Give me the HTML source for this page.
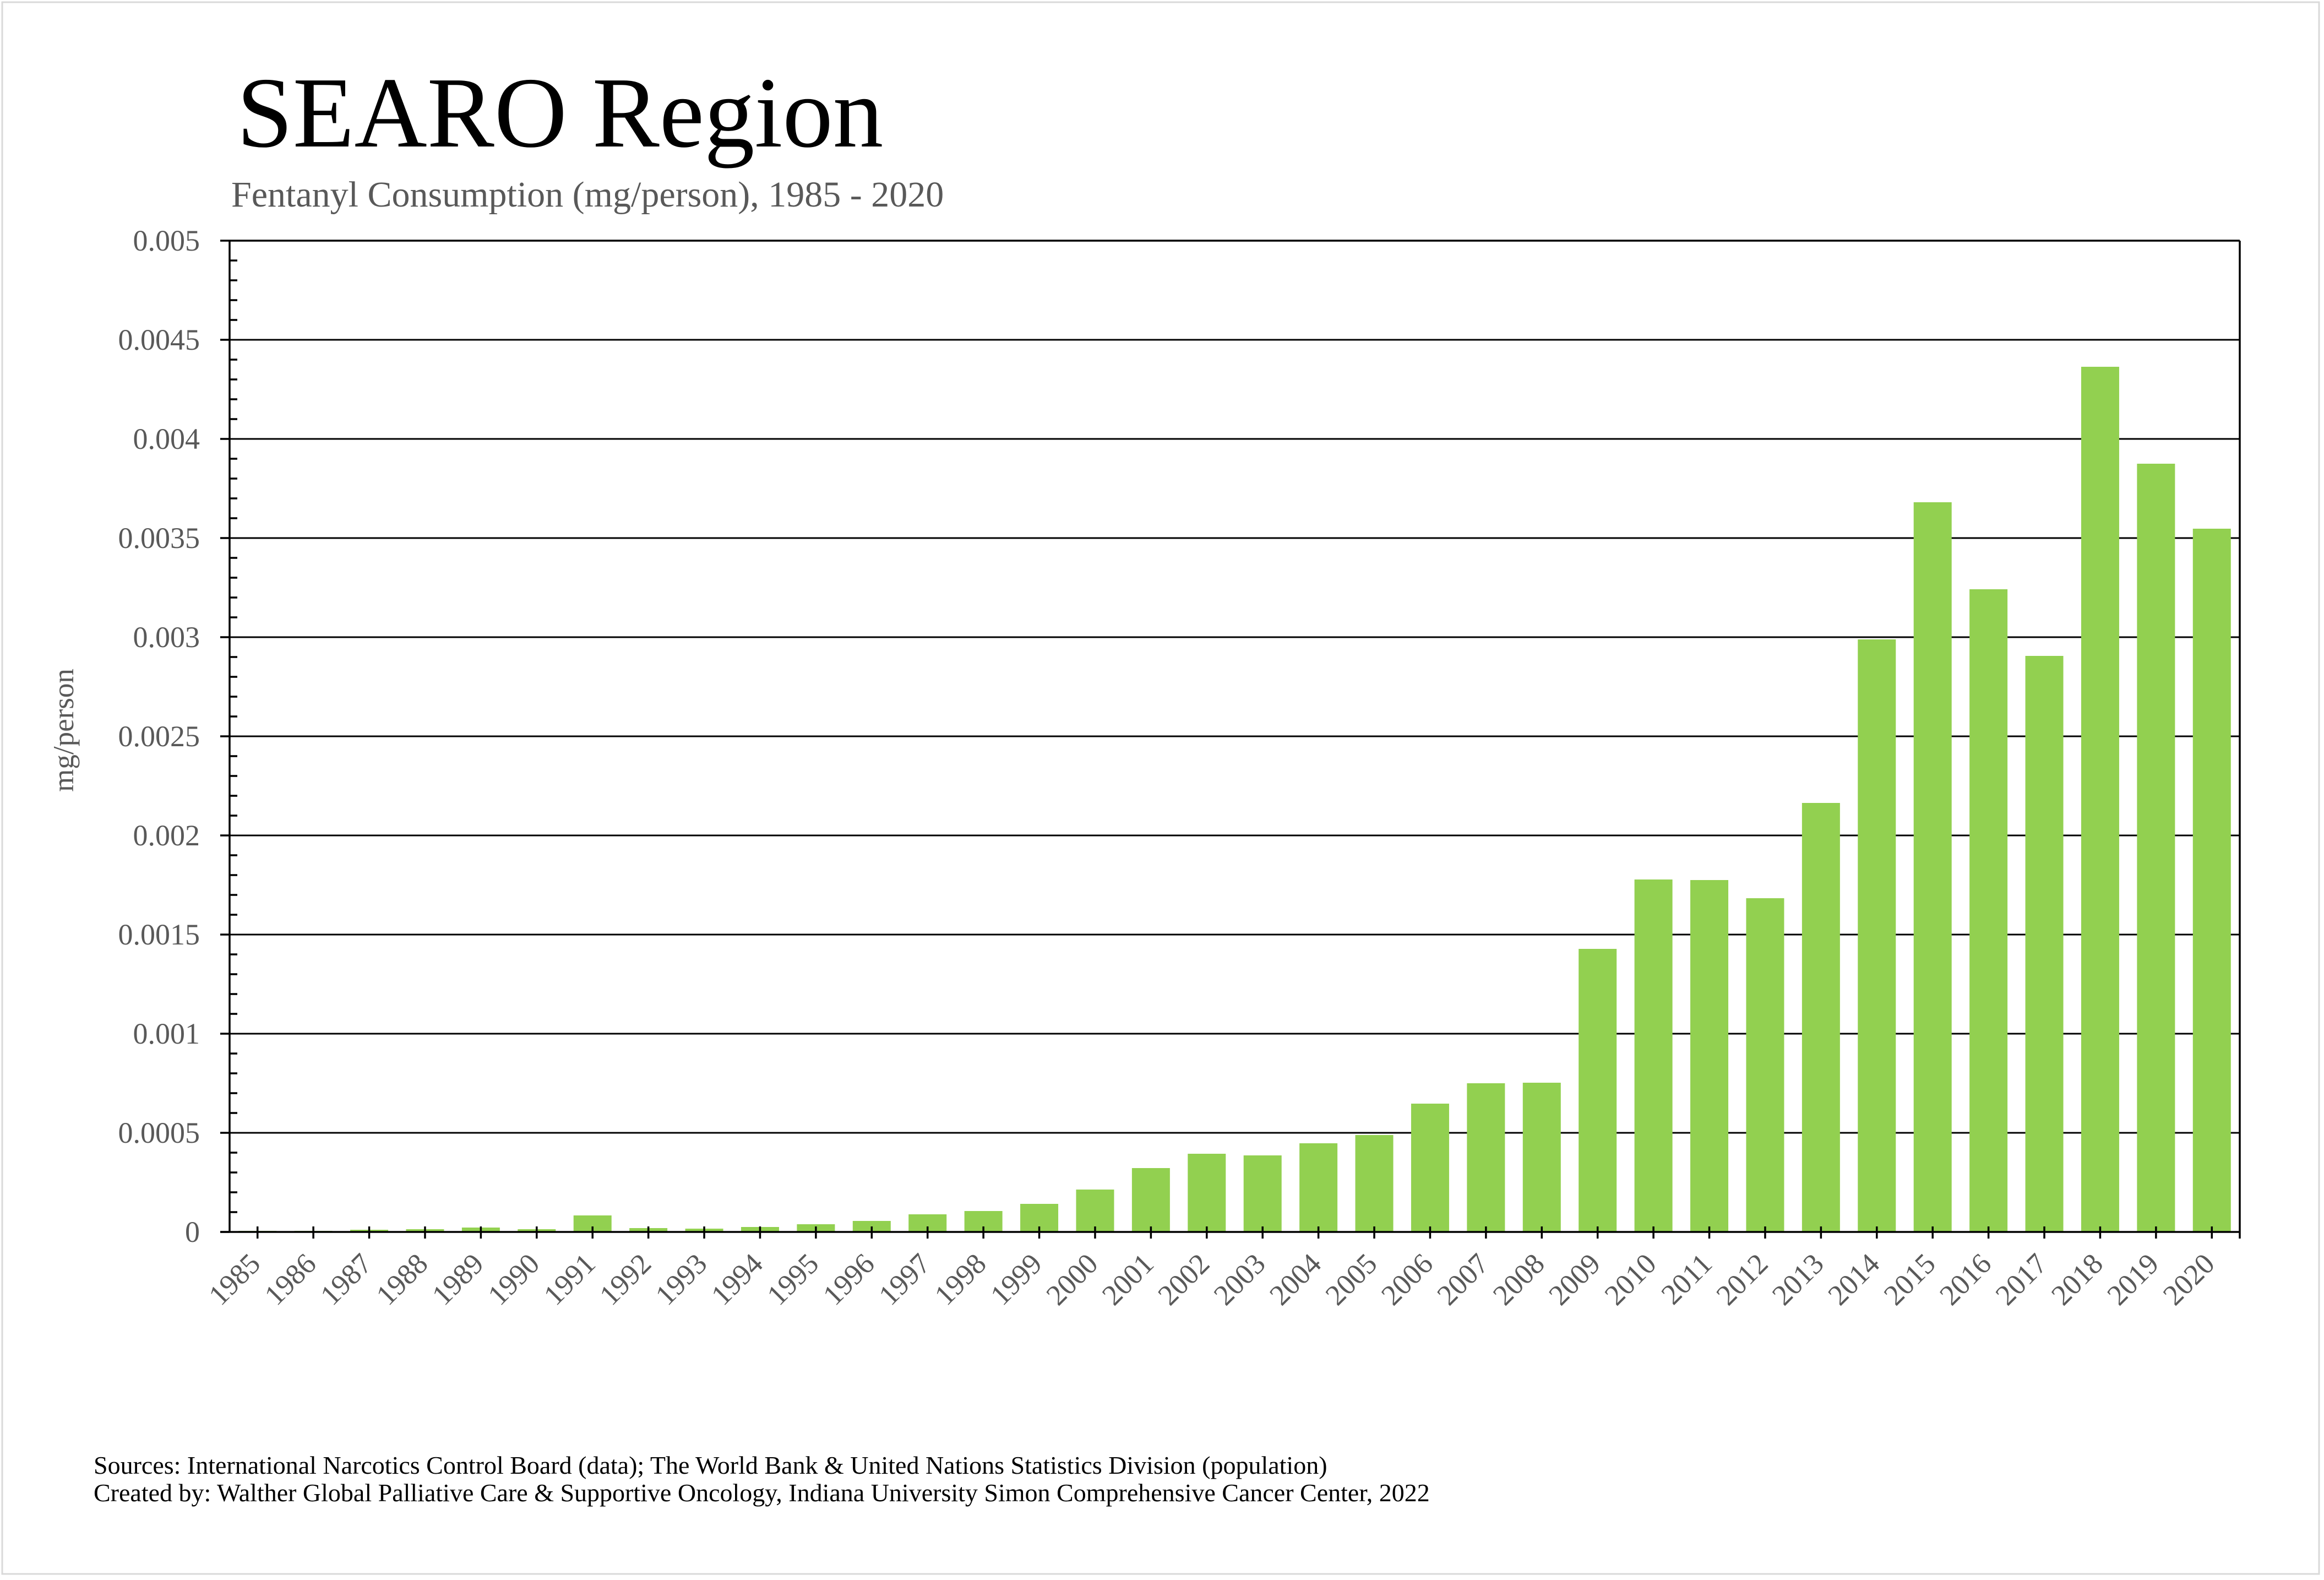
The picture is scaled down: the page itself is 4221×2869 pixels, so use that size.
<!DOCTYPE html>
<html><head><meta charset="utf-8"><style>
html,body{margin:0;padding:0;background:#fff;}
svg{display:block;}
</style></head><body>
<svg width="4221" height="2869" viewBox="0 0 4221 2869" xmlns="http://www.w3.org/2000/svg" font-family="'Liberation Serif', serif">
<rect x="0" y="0" width="4221" height="2869" fill="#fff"/>
<rect x="4" y="4" width="4208" height="2854" fill="none" stroke="#d9d9d9" stroke-width="3"/>
<text x="430" y="266" font-size="183" fill="#000">SEARO Region</text>
<text x="420" y="375" font-size="66" fill="#595959">Fentanyl Consumption (mg/person), 1985 - 2020</text>
<g id="grid" stroke="#000" stroke-width="3"></g>
<g id="bars" fill="#92d050"></g>
<g id="axes" stroke="#000" stroke-width="3.5"></g>
<g id="ylab" font-size="54" fill="#595959" text-anchor="end"></g>
<g id="xlab" font-size="53" fill="#595959" text-anchor="end"></g>
<text transform="translate(133,1326) rotate(-90)" font-size="53" fill="#595959" text-anchor="middle">mg/person</text>
<text x="170" y="2676" font-size="46" fill="#000">Sources: International Narcotics Control Board (data); The World Bank &amp; United Nations Statistics Division (population)</text>
<text x="170" y="2726" font-size="46" fill="#000">Created by: Walther Global Palliative Care &amp; Supportive Oncology, Indiana University Simon Comprehensive Cancer Center, 2022</text>
</svg>
<script>
var NS="http://www.w3.org/2000/svg";
function el(p,t,a,txt){var e=document.createElementNS(NS,t);for(var k in a)e.setAttribute(k,a[k]);if(txt!==undefined)e.textContent=txt;document.getElementById(p).appendChild(e);}
var L=417,R=4068,T=437,B=2237,step=180;
var labs=["0","0.0005","0.001","0.0015","0.002","0.0025","0.003","0.0035","0.004","0.0045","0.005"];
for(var i=0;i<=10;i++){var y=B-i*step;
 if(i>0)el("grid","line",{x1:L,y1:y,x2:R,y2:y});
 el("axes","line",{x1:400,y1:y,x2:L,y2:y});
 el("ylab","text",{x:363,y:y+18},labs[i]);
 if(i<10)for(var j=1;j<5;j++){var yy=y-j*36;el("axes","line",{x1:L,y1:yy,x2:431,y2:yy});}
}
var h=[2,2,4,5,8,5,30,7,6,9,14,20,32,38,51,77,116,142,139,161,176,233,270,271,514,640,639,606,779,1076,1325,1167,1046,1571,1395,1277];
var cw=(R-L)/36;
for(var i=0;i<36;i++){var cx=L+cw*(i+0.5);
 el("bars","rect",{x:cx-34.5,y:B-h[i],width:69,height:h[i]});
 el("axes","line",{x1:cx,y1:B-10,x2:cx,y2:B+12});
 el("xlab","text",{x:0,y:0,transform:"translate("+(cx+8)+",2298) rotate(-45)"},String(1985+i));
}
el("axes","line",{x1:R,y1:B,x2:R,y2:B+12});
el("axes","line",{x1:L,y1:T,x2:L,y2:B});
el("axes","line",{x1:R,y1:T,x2:R,y2:B});
el("axes","line",{x1:400,y1:B,x2:R,y2:B});
el("axes","line",{x1:L,y1:T,x2:R,y2:T});
</script>
</body></html>
